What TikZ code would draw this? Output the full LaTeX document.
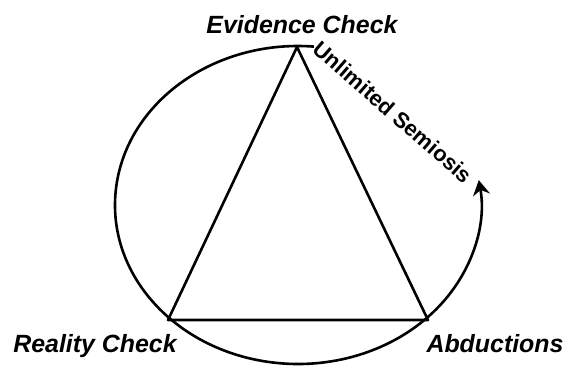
\documentclass[tikz,border=0pt]{standalone}
\usepackage{fontspec}
\setmainfont{Liberation Sans}
\usetikzlibrary{arrows.meta}
\begin{document}
\begin{tikzpicture}[x=1bp,y=-1bp,
  edge/.style={line width=2.6bp, line join=round},
  lbl/.style={anchor=base, inner sep=0pt, font=\fontsize{25pt}{30pt}\selectfont\bfseries\itshape},
  semi/.style={inner sep=0pt, rotate=-41, font=\fontsize{22pt}{24pt}\selectfont\bfseries}]
\useasboundingbox (0,0) rectangle (567,368);
\coordinate (E) at (297,47);
\coordinate (R) at (168,320);
\coordinate (A) at (428,320);
\coordinate (C) at (298,205);
\draw[edge] (E) -- (R) -- (A) -- cycle;
\draw[edge, -{Stealth[length=15bp,width=17bp,inset=5bp]}]
  (C) ++(85:183bp and 159bp) arc[start angle=85, end angle=369, x radius=183bp, y radius=159bp];
\node[lbl] (lE) at (302,33) {Evidence Check};
\node[lbl] (lR) at (95,352) {Reality Check};
\node[lbl] (lA) at (495,352) {Abductions};
\node[semi] (lU) at (393,112) {Unlimited Semiosis};
\end{tikzpicture}
\end{document}
